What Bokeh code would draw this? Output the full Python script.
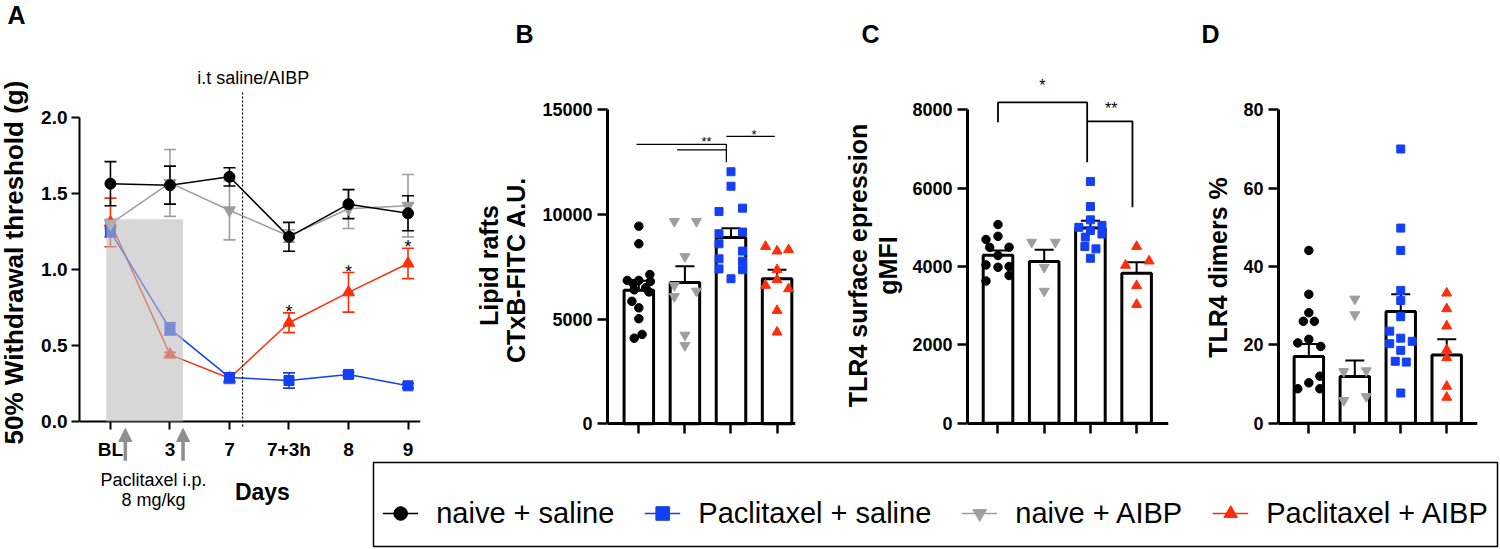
import math
from bokeh.plotting import figure
from bokeh.models import (Range1d, FixedTicker, Whisker, TeeHead, ColumnDataSource, Arrow,
                          NormalHead, BoxAnnotation, Label, Legend, LegendItem, PrintfTickFormatter)
from bokeh.layouts import row, column
from bokeh.embed import file_html
from bokeh.resources import INLINE
from bokeh.core.properties import value

FONT = "Liberation Sans"
BLACK, BLUE, GRAY, RED = "#000000", "#1440f5", "#9e9e9e", "#ff2d0a"

# ---------------- Panel A data (50% withdrawal threshold, g) ----------------
days = ["BL", "3", "7", "7+3h", "8", "9"]
a_naive_saline = [1.565, 1.555, 1.61, 1.215, 1.43, 1.37]
a_naive_saline_sem = [0.145, 0.125, 0.06, 0.095, 0.095, 0.115]
a_ptx_saline = [1.25, 0.61, 0.29, 0.27, 0.31, 0.235]
a_ptx_saline_sem = [0.035, 0.04, 0.03, 0.05, 0.015, 0.015]
a_naive_aibp = [1.30, 1.57, 1.39, 1.22, 1.40, 1.42]
a_naive_aibp_sem = [0.03, 0.22, 0.195, 0.04, 0.13, 0.205]
a_ptx_aibp = [1.31, 0.44, 0.285, 0.65, 0.85, 1.04]
a_ptx_aibp_sem = [0.16, 0.015, 0.035, 0.065, 0.13, 0.10]
a_sig_days = [3, 4, 5]          # indices of days with "*"

# ---------------- Panels B-D (bar order: naive+saline, naive+AIBP, Ptx+saline, Ptx+AIBP) ----
b_means = [6380, 6750, 8900, 6930]
b_sem = [450, 780, 440, 430]
b_ns = [9440, 8600, 7130, 6850, 6850, 6800, 6700, 6500, 6400, 6300, 5850, 5540, 5020, 4270, 4090]
b_na = [9670, 9670, 7990, 6610, 6340, 6080, 4240, 3740]
b_ps = [12040, 11350, 10300, 10140, 9160, 9080, 8600, 8250, 7880, 7770, 7400, 7360, 6930]
b_pa = [8470, 8250, 8310, 7360, 6880, 6610, 6450, 5410, 4380]

c_means = [4290, 4130, 4980, 3830]
c_sem = [120, 295, 190, 280]
c_ns = [5070, 4690, 4770, 4490, 4490, 4280, 4040, 4000, 3980, 3770, 3630]
c_na = [4620, 4620, 3980, 3370]
c_ps = [6170, 5530, 5190, 5000, 5050, 4920, 4750, 4830, 4510, 4450, 4210]
c_pa = [4510, 4030, 4140, 3510, 3030]

d_means = [17.0, 11.9, 28.5, 17.4]
d_sem = [3.2, 4.1, 4.4, 4.0]
d_ns = [44.1, 32.9, 28.2, 26.0, 26.0, 21.4, 20.5, 19.6, 12.0, 10.3, 8.8, 8.8]
d_na = [31.7, 27.7, 13.2, 13.4, 5.8, 6.8]
d_ps = [70.0, 49.8, 44.1, 33.9, 31.3, 27.2, 23.5, 21.7, 20.3, 20.9, 18.6, 15.8, 15.6, 7.7]
d_pa = [33.2, 29.2, 24.8, 18.7, 16.7, 9.4, 6.6]

# horizontal scatter offsets (layout only, in category widths)
b_ns_dx = [0, 0, .24, -.25, 0, .25, -.12, .15, -.1, .22, -.15, 0, 0, .07, -.1]
b_na_dx = [-.23, .25, 0, -.23, .25, -.23, 0, 0]
b_ps_dx = [0, 0, .25, -.26, .25, -.26, -.26, .25, -.26, .25, -.26, .25, 0]
b_pa_dx = [-.25, 0, .25, 0, 0, -.25, .25, 0, 0]
c_ns_dx = [0, -.26, 0, -.18, .24, 0, -.26, .24, 0, .24, -.26]
c_na_dx = [-.27, .24, 0, 0]
c_ps_dx = [0, 0, 0, -.25, .25, 0, -.11, .25, -.12, .12, 0]
c_pa_dx = [0, -.24, .27, 0, 0]
d_ns_dx = [0, 0, 0, -.12, .12, 0, -.24, .26, .24, 0, -.24, .24]
d_na_dx = [0, 0, -.24, .25, -.24, .25]
d_ps_dx = [0, 0, 0, 0, 0, 0, -.24, 0, -.24, .25, 0, -.12, .12, 0]
d_pa_dx = [0, 0, 0, 0, 0, 0, 0]

groups = ["naive + saline", "Paclitaxel + saline", "naive + AIBP", "Paclitaxel + AIBP"]
colors = {"naive + saline": BLACK, "Paclitaxel + saline": BLUE, "naive + AIBP": GRAY, "Paclitaxel + AIBP": RED}
markers = {"naive + saline": "circle", "Paclitaxel + saline": "square",
           "naive + AIBP": "inverted_triangle", "Paclitaxel + AIBP": "triangle"}
bar_groups = ["naive + saline", "naive + AIBP", "Paclitaxel + saline", "Paclitaxel + AIBP"]
a_series = {"naive + saline": a_naive_saline, "Paclitaxel + saline": a_ptx_saline,
            "naive + AIBP": a_naive_aibp, "Paclitaxel + AIBP": a_ptx_aibp}

TOP_H = 461       # height of the top row; every top frame spans its full height


def style(p, tick_size, axis_w, tick_w, tick_out, standoff):
    p.xgrid.visible = False
    p.ygrid.visible = False
    p.outline_line_color = None
    for ax in (p.xaxis[0], p.yaxis[0]):
        ax.axis_line_width = axis_w
        ax.axis_line_color = "black"
        ax.major_tick_line_width = tick_w
        ax.major_tick_line_color = "black"
        ax.major_tick_out = tick_out
        ax.major_tick_in = 0
        ax.minor_tick_line_color = None
        ax.major_label_text_font = FONT
        ax.major_label_text_font_style = "bold"
        ax.major_label_text_font_size = tick_size
        ax.major_label_text_color = "black"
        ax.major_label_standoff = standoff
    p.xaxis[0].fixed_location = 0


def new_fig(w, xr, yr, l, r):
    p = figure(width=w, height=TOP_H, x_range=xr, y_range=yr, output_backend="svg",
               toolbar_location=None, tools="", min_border_left=l, min_border_right=r,
               min_border_top=0, min_border_bottom=0)
    p.background_fill_color = "white"
    p.border_fill_color = "white"
    return p


def text_fig(w, h, entries):
    """Small axis-less figure holding y-axis titles and panel letters (pixel-like coordinates)."""
    p = figure(width=w, height=h, x_range=Range1d(0, w), y_range=Range1d(h, 0), output_backend="svg",
               toolbar_location=None, tools="", min_border=0, x_axis_location=None, y_axis_location=None)
    p.grid.visible = False
    p.outline_line_color = None
    for (x, y, txt, size, bold, angle, align, baseline) in entries:
        p.text(x=[x], y=[y], text=[txt], angle=angle, text_font=value(FONT), text_font_size=size,
               text_font_style="bold" if bold else "normal", text_align=align,
               text_baseline=baseline, text_color="black")
    return p


ROT = math.pi / 2

# ======================= Panel A =======================
labA = text_fig(38, TOP_H, [
    (13, 262, "50% Withdrawal threshold (g)", "26px", True, ROT, "center", "middle"),
    (7, 0, "A", "25px", True, 0, "left", "top"),
])
pA = new_fig(422, Range1d(-0.52, 5.21), Range1d(-0.263, 2.770), 40, 40)
style(pA, "19px", 2, 2, 8, 4)
pA.xaxis[0].ticker = FixedTicker(ticks=list(range(len(days))))
pA.xaxis[0].major_label_overrides = {i: d for i, d in enumerate(days)}
pA.xaxis[0].major_label_standoff = 9
pA.yaxis[0].ticker = FixedTicker(ticks=[0, 0.5, 1.0, 1.5, 2.0])
pA.yaxis[0].formatter = PrintfTickFormatter(format="%.1f")
pA.yaxis[0].bounds = (0, 2)

xs = list(range(len(days)))
series_A = [
    ("Paclitaxel + AIBP", a_ptx_aibp, a_ptx_aibp_sem, 12),
    ("Paclitaxel + saline", a_ptx_saline, a_ptx_saline_sem, 10),
    ("naive + AIBP", a_naive_aibp, a_naive_aibp_sem, 12),
    ("naive + saline", a_naive_saline, a_naive_saline_sem, 11),
]
for name, m, s, size in series_A:
    c = colors[name]
    pA.line(xs, m, line_color=c, line_width=1.5)
    pA.scatter(xs, m, marker=markers[name], size=size, fill_color=c, line_color=c)
for name, m, s, size in series_A:
    c = colors[name]
    src = ColumnDataSource(dict(x=xs, lo=[a - e for a, e in zip(m, s)], hi=[a + e for a, e in zip(m, s)]))
    pA.add_layout(Whisker(source=src, base="x", lower="lo", upper="hi", line_color=c, line_width=1.6,
                          upper_head=TeeHead(size=12, line_color=c, line_width=1.6),
                          lower_head=TeeHead(size=12, line_color=c, line_width=1.6)))

pA.text(x=a_sig_days, y=[a_ptx_aibp[i] + a_ptx_aibp_sem[i] + 0.005 for i in a_sig_days],
        text=["*"] * len(a_sig_days), text_font=value(FONT), text_font_size="18px",
        text_align="center", text_baseline="alphabetic", text_color="black")

pA.add_layout(BoxAnnotation(left=-0.07, right=1.22, bottom=0, top=1.33,
                            fill_color="#bdbdbd", fill_alpha=0.6, line_color=None))
pA.add_layout(Arrow(x_start=2.22, y_start=2.165, x_end=2.22, y_end=-0.046, start=None, end=None,
                    line_color="black", line_width=1.2, line_dash="2 2"))
pA.add_layout(Label(x=2.40, y=2.262, text="i.t saline/AIBP", text_font=FONT, text_font_size="18px",
                    text_align="center", text_baseline="middle", text_color="black"))
for xi in (0.25, 1.22):
    pA.add_layout(Arrow(x_start=xi, y_start=-0.258, x_end=xi, y_end=-0.046, line_color="#8e8e8e",
                        line_width=3.5, end=NormalHead(size=13, fill_color="#8e8e8e", line_color="#8e8e8e")))


# ======================= Bar panels =======================
def bar_panel(w, yr, xr, l, r, means, sems, pts, dxs, ticks, top):
    p = new_fig(w, xr, yr, l, r)
    style(p, "18px", 3, 2.5, 10, 5)
    cats = list(range(4))
    p.xaxis[0].ticker = FixedTicker(ticks=cats)
    p.xaxis[0].major_label_overrides = {i: "" for i in cats}
    p.yaxis[0].ticker = FixedTicker(ticks=ticks)
    p.yaxis[0].bounds = (0, top)
    p.vbar(x=cats, top=means, width=0.64, bottom=0, fill_color="white", line_color="black", line_width=3)
    sizes = {"circle": 8.5, "square": 8, "triangle": 10, "inverted_triangle": 10}
    for i, g in enumerate(bar_groups):
        mk = markers[g]
        p.scatter([i + d for d in dxs[i]], pts[i], marker=mk, size=sizes[mk],
                  fill_color=colors[g], line_color=colors[g])
    src = ColumnDataSource(dict(x=cats, lo=[m - s for m, s in zip(means, sems)],
                                hi=[m + s for m, s in zip(means, sems)]))
    p.add_layout(Whisker(source=src, base="x", lower="lo", upper="hi", line_color="black", line_width=2,
                         upper_head=TeeHead(size=19, line_color="black", line_width=2),
                         lower_head=TeeHead(size=19, line_color="black", line_width=2)))
    return p


labB = text_fig(75, TOP_H, [
    (28, 265, "Lipid rafts", "25px", True, ROT, "center", "middle"),
    (55, 266, "CTxB-FITC  A.U.", "25px", True, ROT, "center", "middle"),
    (55, 19, "B", "25px", True, 0, "left", "top"),
])
pB = bar_panel(305, Range1d(-1801, 20221), Range1d(-0.68, 3.40), 72, 45,
               b_means, b_sem, [b_ns, b_na, b_ps, b_pa], [b_ns_dx, b_na_dx, b_ps_dx, b_pa_dx],
               [0, 5000, 10000, 15000], 15000)
pB.multi_line(xs=[[-0.05, 1.9, 1.9], [0.83, 1.9], [1.9, 2.95]],
              ys=[[13344, 13344, 12500], [13089, 13089], [13726, 13726]], line_color="black", line_width=1.3)
pB.text(x=[1.47, 2.5], y=[13850 - 357, 14200 - 357], text=["**", "*"], text_font=value(FONT),
        text_font_size="13px", text_align="center", text_baseline="alphabetic", text_color="black")

labC = text_fig(65, TOP_H, [
    (17, 265, "TLR4 surface epression", "25px", True, ROT, "center", "middle"),
    (47, 265, "gMFI", "25px", True, ROT, "center", "middle"),
    (21, 19, "C", "25px", True, 0, "left", "top"),
])
pC = bar_panel(275, Range1d(-978, 10790), Range1d(-0.66, 3.69), 62, 12,
               c_means, c_sem, [c_ns, c_na, c_ps, c_pa], [c_ns_dx, c_na_dx, c_ps_dx, c_pa_dx],
               [0, 2000, 4000, 6000, 8000], 8000)
pC.multi_line(xs=[[0, 0, 1.93, 1.93], [1.93, 2.91, 2.91]],
              ys=[[7685, 8187, 8187, 6664], [7702, 7702, 5515]], line_color="black", line_width=1.8)
pC.text(x=[0.96, 2.45], y=[8851 - 235, 8264 - 235], text=["*", "**"], text_font=value(FONT),
        text_font_size="16px", text_align="center", text_baseline="alphabetic", text_color="black")

labD = text_fig(60, TOP_H, [
    (37, 267, "TLR4 dimers %", "25px", True, ROT, "center", "middle"),
    (21, 19, "D", "25px", True, 0, "left", "top"),
])
pD = bar_panel(260, Range1d(-9.78, 107.9), Range1d(-0.66, 3.67), 37, 23,
               d_means, d_sem, [d_ns, d_na, d_ps, d_pa], [d_ns_dx, d_na_dx, d_ps_dx, d_pa_dx],
               [0, 20, 40, 60, 80], 80)

# ======================= bottom row =======================
BOT_H = 88
pAnn = figure(width=372, height=BOT_H, x_range=Range1d(-1.827, 4.404), y_range=Range1d(BOT_H, 0),
              output_backend="svg", toolbar_location=None, tools="", min_border=0,
              x_axis_location=None, y_axis_location=None)
pAnn.grid.visible = False
pAnn.outline_line_color = None
pAnn.text(x=[0.735, 0.735], y=[18, 39], text=["Paclitaxel i.p.", "8 mg/kg"], text_font=value(FONT),
          text_font_size="18px", text_align="center", text_baseline="middle", text_color="black")
pAnn.text(x=[2.56], y=[31], text=["Days"], text_font=value(FONT), text_font_size="23px",
          text_font_style="bold", text_align="center", text_baseline="middle", text_color="black")

pLeg = figure(width=1128, height=BOT_H, x_range=Range1d(100, 101), y_range=Range1d(0, 1),
              output_backend="svg", toolbar_location=None, tools="", min_border_left=1,
              min_border_right=3, min_border_top=1, min_border_bottom=3,
              x_axis_location=None, y_axis_location=None)
pLeg.grid.visible = False
pLeg.outline_line_color = "black"
pLeg.outline_line_width = 1.5
items = []
for g in groups:
    lr = pLeg.line(x=xs, y=a_series[g], line_color=colors[g], line_width=1.5)
    sr = pLeg.scatter(x=xs, y=a_series[g], marker=markers[g], fill_color=colors[g], line_color=colors[g])
    items.append(LegendItem(label=g, renderers=[lr, sr]))
leg = Legend(items=items, orientation="horizontal", location="bottom_center", margin=16, padding=0,
             spacing=30, glyph_width=36, glyph_height=34, label_standoff=18,
             label_text_font=FONT, label_text_font_size="29px", label_text_color="black",
             border_line_color=None, background_fill_alpha=0)
pLeg.add_layout(leg, "center")

layout = column(row(labA, pA, labB, pB, labC, pC, labD, pD), row(pAnn, pLeg))
open("out.html", "w").write(file_html(layout, INLINE))
